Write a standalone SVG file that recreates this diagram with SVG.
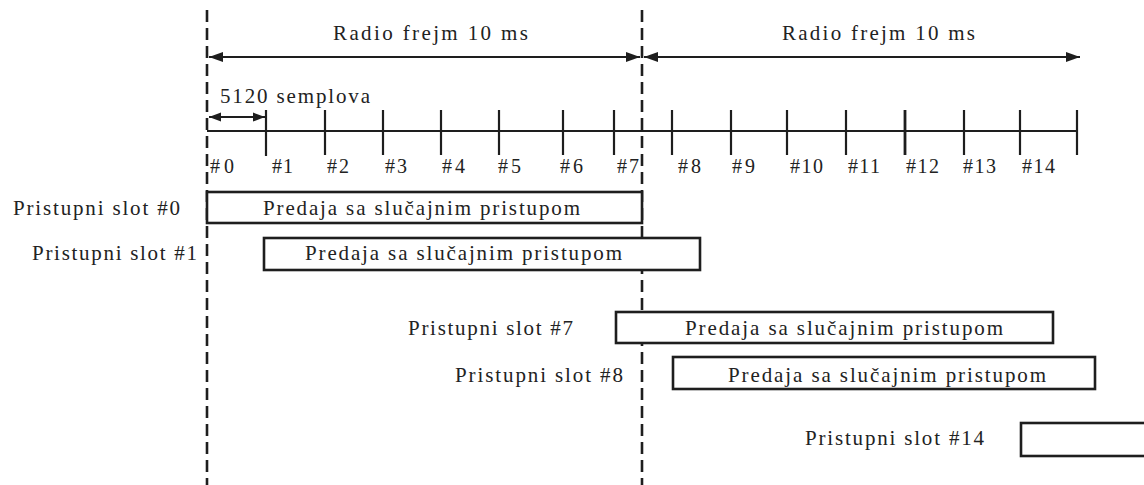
<svg xmlns="http://www.w3.org/2000/svg" width="1144" height="485" viewBox="0 0 1144 485">
<style>
text{font-family:"Liberation Serif","Times New Roman",serif;fill:#222}
.t{font-size:21px}
.n{font-size:20px}
.box{fill:#fff;stroke:#1e1e1e;stroke-width:2.6}
.ln{stroke:#1e1e1e;stroke-width:2;fill:none}
.tk{stroke:#1e1e1e;stroke-width:2.2}
.dash{stroke:#1e1e1e;stroke-width:2.6;stroke-dasharray:12 6;fill:none}
</style>
<defs>
<marker id="ah" markerUnits="userSpaceOnUse" markerWidth="14" markerHeight="10" refX="14" refY="5" orient="auto-start-reverse">
<path d="M0,0 L14,5 L0,10 z" fill="#1e1e1e"/>
</marker>
<marker id="ahs" markerUnits="userSpaceOnUse" markerWidth="12" markerHeight="10" refX="12" refY="5" orient="auto-start-reverse">
<path d="M0,0.5 L12,5 L0,9.5 z" fill="#1e1e1e"/>
</marker>
</defs>

<g id="connectors">
<line class="dash" x1="207" y1="10" x2="207" y2="485"/>
<line class="dash" x1="642" y1="10" x2="642" y2="485"/>
<line class="ln" x1="209" y1="57" x2="640" y2="57" marker-start="url(#ah)" marker-end="url(#ah)"/>
<line class="ln" x1="644" y1="57" x2="1080" y2="57" marker-start="url(#ah)" marker-end="url(#ah)"/>
<line class="ln" x1="209" y1="117" x2="265" y2="117" marker-start="url(#ahs)" marker-end="url(#ahs)"/>
<line class="ln" x1="207" y1="131" x2="1078" y2="131"/>
<g class="tk">
<line x1="266" y1="110" x2="266" y2="156"/>
<line x1="325" y1="110" x2="325" y2="155"/>
<line x1="383" y1="110" x2="383" y2="155"/>
<line x1="441" y1="110" x2="441" y2="155"/>
<line x1="499" y1="110" x2="499" y2="155"/>
<line x1="563" y1="110" x2="563" y2="155"/>
<line x1="614" y1="110" x2="614" y2="155"/>
<line x1="672" y1="110" x2="672" y2="155"/>
<line x1="731" y1="110" x2="731" y2="155"/>
<line x1="787" y1="110" x2="787" y2="155"/>
<line x1="846" y1="110" x2="846" y2="155"/>
<line x1="905" y1="110" x2="905" y2="155" stroke-width="2.8"/>
<line x1="964" y1="110" x2="964" y2="155"/>
<line x1="1020" y1="110" x2="1020" y2="155"/>
<line x1="1077" y1="110" x2="1077" y2="155"/>
</g>
</g>

<g id="frame-labels">
<text class="t" x="333" y="40" textLength="195" lengthAdjust="spacing">Radio frejm 10 ms</text>
<text class="t" x="782" y="40" textLength="193" lengthAdjust="spacing">Radio frejm 10 ms</text>
<text class="t" x="220" y="103" textLength="150" lengthAdjust="spacing">5120 semplova</text>
</g>

<g id="tick-labels" class="n">
<text x="210" y="173" textLength="24" lengthAdjust="spacing">#0</text>
<text x="272" y="173" textLength="21" lengthAdjust="spacing">#1</text>
<text x="327" y="173" textLength="22" lengthAdjust="spacing">#2</text>
<text x="385" y="173" textLength="22" lengthAdjust="spacing">#3</text>
<text x="442" y="173" textLength="23" lengthAdjust="spacing">#4</text>
<text x="498" y="173" textLength="23" lengthAdjust="spacing">#5</text>
<text x="560" y="173" textLength="23" lengthAdjust="spacing">#6</text>
<text x="617" y="173" textLength="22" lengthAdjust="spacing">#7</text>
<text x="678" y="173" textLength="23" lengthAdjust="spacing">#8</text>
<text x="732" y="173" textLength="23" lengthAdjust="spacing">#9</text>
<text x="790" y="173" textLength="33" lengthAdjust="spacing">#10</text>
<text x="848" y="173" textLength="32" lengthAdjust="spacing">#11</text>
<text x="906" y="173" textLength="33" lengthAdjust="spacing">#12</text>
<text x="963" y="173" textLength="33" lengthAdjust="spacing">#13</text>
<text x="1022" y="173" textLength="33" lengthAdjust="spacing">#14</text>
</g>

<g id="slot0">
<text class="t" x="13" y="215" textLength="167" lengthAdjust="spacing">Pristupni slot #0</text>
<rect class="box" x="207" y="192" width="435" height="31"/>
<text class="t" x="263" y="215" textLength="317" lengthAdjust="spacing">Predaja sa slučajnim pristupom</text>
</g>

<g id="slot1">
<text class="t" x="32" y="260" textLength="165" lengthAdjust="spacing">Pristupni slot #1</text>
<rect class="box" x="264" y="238" width="436" height="32"/>
<text class="t" x="305" y="260" textLength="317" lengthAdjust="spacing">Predaja sa slučajnim pristupom</text>
</g>

<g id="slot7">
<text class="t" x="408" y="335" textLength="165" lengthAdjust="spacing">Pristupni slot #7</text>
<rect class="box" x="616" y="312" width="437" height="31"/>
<text class="t" x="685" y="335" textLength="318" lengthAdjust="spacing">Predaja sa slučajnim pristupom</text>
</g>

<g id="slot8">
<text class="t" x="455" y="382" textLength="168" lengthAdjust="spacing">Pristupni slot #8</text>
<rect class="box" x="673" y="357" width="422" height="32"/>
<text class="t" x="728" y="382" textLength="318" lengthAdjust="spacing">Predaja sa slučajnim pristupom</text>
</g>

<g id="slot14">
<text class="t" x="805" y="445" textLength="179" lengthAdjust="spacing">Pristupni slot #14</text>
<rect class="box" x="1021" y="423" width="140" height="33"/>
</g>
</svg>
